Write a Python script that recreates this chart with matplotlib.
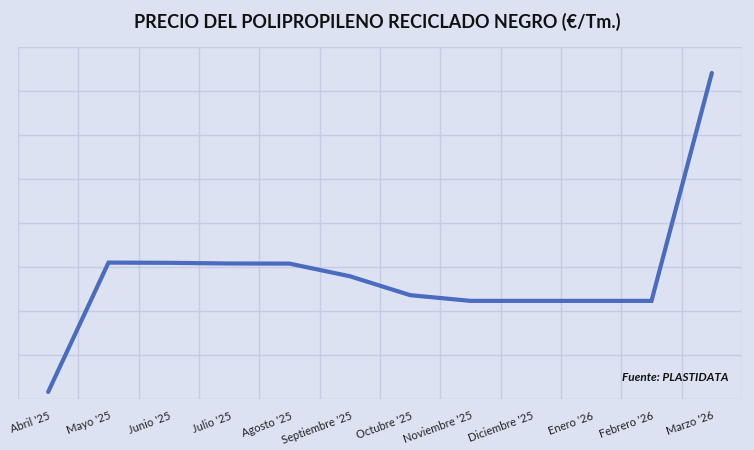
import matplotlib.pyplot as plt
import numpy as np

plt.rcParams['font.family'] = ['Lato', 'DejaVu Sans']

months = ["Abril '25", "Mayo '25", "Junio '25", "Julio '25", "Agosto '25",
          "Septiembre '25", "Octubre '25", "Noviembre '25", "Diciembre '25",
          "Enero '26", "Febrero '26", "Marzo '26"]
# price (arbitrary units, y axis labels hidden in the original)
prices = [16, 310, 309.5, 308, 307.7, 279, 236, 223, 223, 223, 223, 741]

bg = "#dce2f2"
grid_col = "#c4cce4"
line_col = "#4a6bc0"

fig = plt.figure(figsize=(7.54, 4.5), dpi=100, facecolor=bg)
ax = fig.add_axes([18/754, 1 - 399/450, 724/754, 352/450])
ax.set_facecolor(bg)

x = np.arange(len(months))
ax.plot(x, prices, color=line_col, linewidth=3, solid_capstyle="round",
        solid_joinstyle="miter", zorder=3)

ax.set_xlim(-0.5, len(months) - 0.5)
ax.set_ylim(0, 800)
ax.set_yticks(np.arange(0, 801, 100))
ax.set_yticklabels([])
ax.set_xticks(np.arange(-0.5, len(months), 1), minor=False)
ax.set_xticklabels([])
ax.set_xticks(x, minor=True)
ax.set_xticklabels(months, minor=True, rotation=20, ha="right",
                   rotation_mode="anchor", fontsize=8, color="#222222")
ax.tick_params(axis="both", which="both", length=0)
ax.tick_params(axis="x", which="minor", pad=8)
ax.grid(True, which="major", color=grid_col, linewidth=1)
for s in ax.spines.values():
    s.set_visible(False)

fig.text(0.5, 1 - 22/450, "PRECIO DEL POLIPROPILENO RECICLADO NEGRO (€/Tm.)",
         ha="center", va="center", fontsize=13, fontweight="bold", color="#111111")
ax.text(0.982, 0.06, "Fuente: PLASTIDATA", transform=ax.transAxes, ha="right",
        va="center", fontsize=8.5, fontweight="bold", fontstyle="italic", color="#111111")

fig.savefig("out.png", dpi=100, facecolor=bg)
